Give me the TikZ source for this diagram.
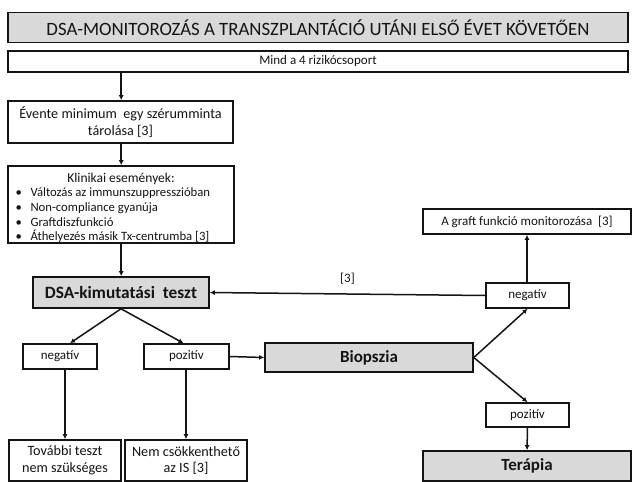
\documentclass[tikz,border=0pt]{standalone}
\usepackage{fontspec}
\setmainfont{Carlito}
\usetikzlibrary{arrows.meta,calc}
\definecolor{boxgray}{RGB}{217,217,217}
\definecolor{inkc}{RGB}{20,20,20}
\tikzset{
  box/.style={draw=inkc,line width=1.6pt,rectangle,inner sep=0pt,align=center,text=inkc},
  graybox/.style={box,fill=boxgray},
  txt/.style={text=inkc,inner sep=0pt,anchor=west,font=\fontsize{12.7}{14.5}\selectfont},
  arr/.style={draw=inkc,line width=1.5pt,-{Latex[length=5pt,width=5pt]}},
  ln/.style={draw=inkc,line width=1.5pt},
}
\begin{document}
\begin{tikzpicture}[x=1pt,y=-1pt]
\useasboundingbox (0,0) rectangle (632,482);
\fill[white] (0,0) rectangle (632,482);
% boxes
\node[graybox,minimum width=620pt,minimum height=30pt,font=\fontsize{18.8}{21}\selectfont] (title) at (318,27.5) {DSA-MONITOROZÁS A TRANSZPLANTÁCIÓ UTÁNI ELSŐ ÉVET KÖVETŐEN};
\node[box,minimum width=620pt,minimum height=21pt,font=\fontsize{13}{15}\selectfont] (mind) at (318,61.5) {Mind a 4 rizikócsoport};
\node[box,minimum width=225pt,minimum height=42pt,font=\fontsize{14.2}{17}\selectfont] (evente) at (120.5,122) {Évente minimum\ \ egy szérumminta\\tárolása [3]};
\node[box,minimum width=226pt,minimum height=77pt] (klin) at (121,204.5) {};
\node[text=inkc,inner sep=0pt,font=\fontsize{13.5}{15}\selectfont] (klinhead) at (121,179) {Klinikai események:};
\node[txt] (k1) at (15.5,193.5) {\textbullet\hspace{8.5pt}Változás az immunszuppresszióban};
\node[txt] (k2) at (15.5,208) {\textbullet\hspace{8.5pt}Non-compliance gyanúja};
\node[txt] (k3) at (15.5,222.5) {\textbullet\hspace{8.5pt}Graftdiszfunkció};
\node[txt] (k4) at (15.5,236.5) {\textbullet\hspace{8.5pt}Áthelyezés másik Tx-centrumba [3]};
\node[graybox,minimum width=176pt,minimum height=31pt,font=\bfseries\fontsize{17.3}{19}\selectfont] (dsa) at (121,292.5) {DSA-kimutatási\ \ teszt};
\node[box,minimum width=74pt,minimum height=25pt,font=\fontsize{13}{15}\selectfont] (neg1) at (60,356.5) {negatív};
\node[box,minimum width=85pt,minimum height=25pt,font=\fontsize{13}{15}\selectfont] (poz1) at (186.5,356.5) {pozitív};
\node[graybox,minimum width=208pt,minimum height=29pt,font=\bfseries\fontsize{17}{19}\selectfont] (bio) at (369,357.5) {Biopszia};
\node[box,minimum width=112pt,minimum height=41pt,font=\fontsize{14.2}{16.5}\selectfont] (tov) at (65,460.5) {További teszt\\nem szükséges};
\node[box,minimum width=122pt,minimum height=41pt,font=\fontsize{14.2}{16.5}\selectfont] (nem) at (186,460.5) {Nem csökkenthető\\az IS [3]};
\node[box,minimum width=208pt,minimum height=25pt,font=\fontsize{13}{15}\selectfont] (graft) at (527,221.5) {A graft funkció monitorozása\ \ [3]};
\node[box,minimum width=83pt,minimum height=25pt,font=\fontsize{13}{15}\selectfont] (neg2) at (527.5,295.5) {negatív};
\node[box,minimum width=83pt,minimum height=24pt,font=\fontsize{13}{15}\selectfont] (poz2) at (527.5,415) {pozitív};
\node[graybox,minimum width=208pt,minimum height=30pt,font=\bfseries\fontsize{17}{19}\selectfont] (ter) at (527,466) {Terápia};
% connectors
\draw[arr] ($(mind.south west)+(114,0)$) -- ($(evente.north west)+(114,0)$);
\draw[arr] ($(evente.south west)+(114,0)$) -- ($(klin.north west)+(114,0)$);
\draw[arr] ($(klin.south west)+(114,0)$) -- ($(dsa.north west)+(89,0)$);
\draw[arr] (dsa.south) -- ($(neg1.north)+(10,0)$);
\draw[arr] (dsa.south) -- ($(poz1.north)+(-3,0)$);
\draw[arr] (neg1.south -| tov) -- (tov.north);
\draw[arr] (poz1.south -| nem) -- (nem.north);
\draw[arr] (poz1.east) -- (bio.west);
\draw[arr] (bio.east) -- (neg2.south);
\draw[arr] (bio.east) -- (poz2.north);
\draw[arr] (neg2.north -| graft) -- (graft.south);
\draw[arr] (poz2.south) -- (ter.north);
\draw[arr] (neg2.west) -- node[above=6pt,text=inkc,font=\fontsize{13}{15}\selectfont] (lbl) {[3]} (dsa.east);
\end{tikzpicture}
\end{document}
